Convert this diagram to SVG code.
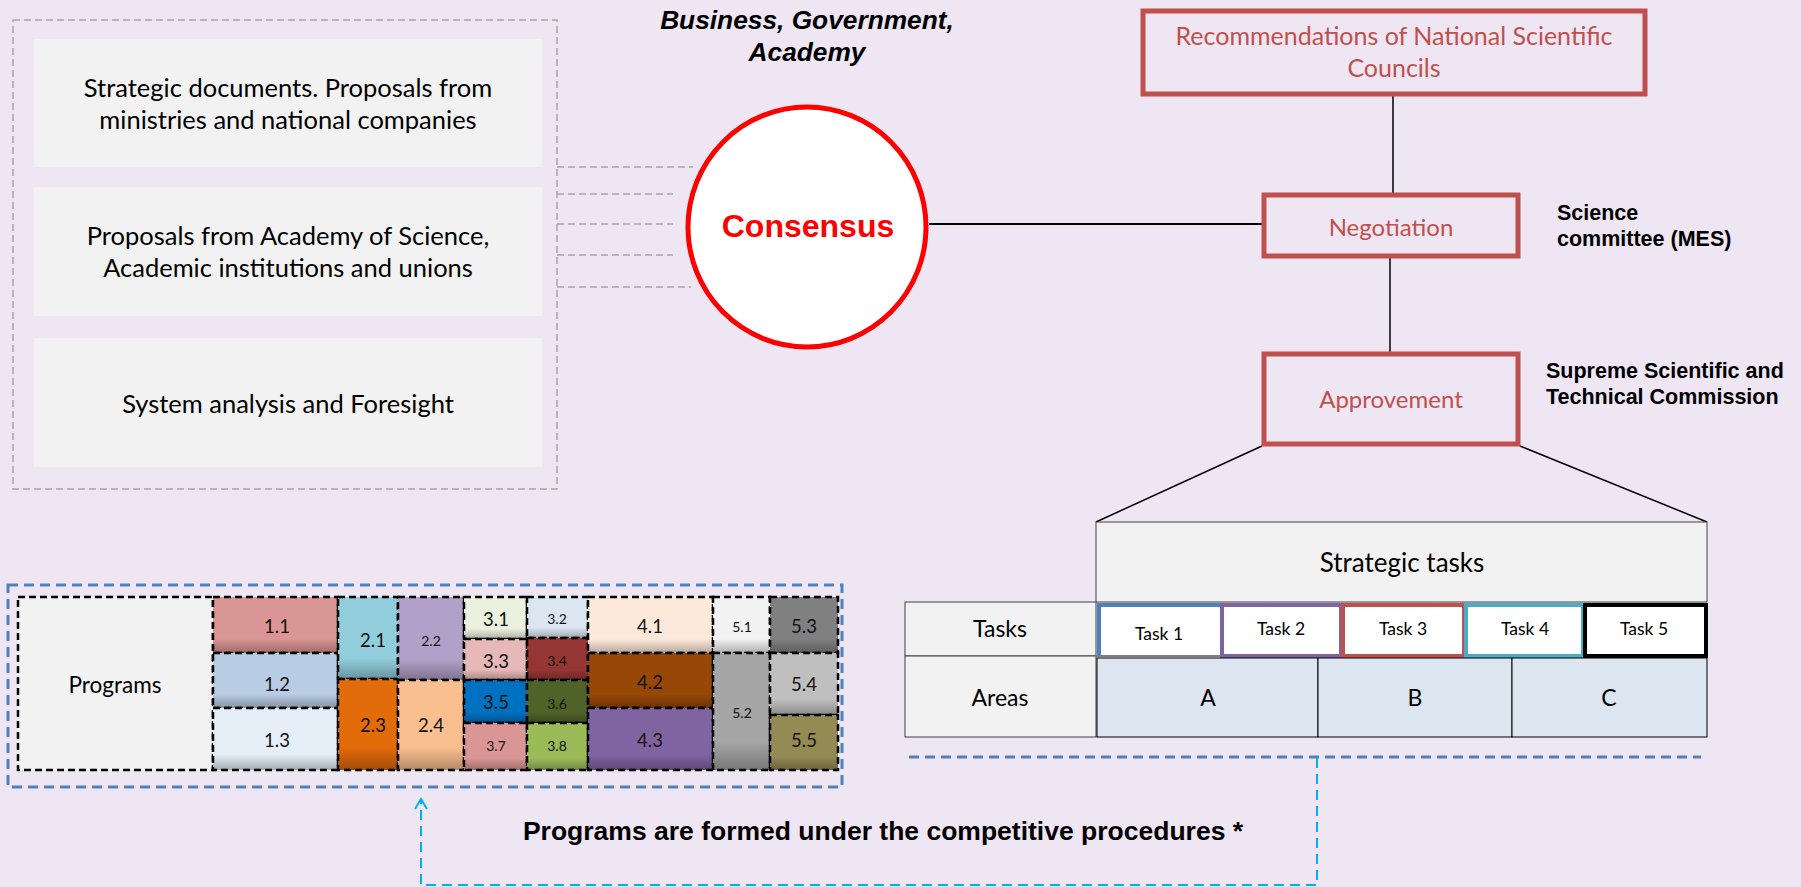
<svg xmlns="http://www.w3.org/2000/svg" width="1801" height="887" viewBox="0 0 1801 887">
<style>
.cal{font-family:Lato,"Open Sans","Noto Sans",sans-serif;fill:#000}
.ari{font-family:"Liberation Sans",Arial,sans-serif;font-weight:bold;fill:#000}
.src{fill:#F2F2F2}
.red{fill:none;stroke:#C0504D;stroke-width:5}
.ln{stroke:#000;stroke-width:1.5;fill:none}
.cell{stroke:#000;stroke-width:2.5;stroke-dasharray:7 4}
.shade{fill:url(#sh);stroke:none}
.lbl{font-family:Lato,"Open Sans",sans-serif;font-size:18.5px;text-anchor:middle;fill:#111}
.sm{font-size:14px}
.tc{fill:#F2F2F2;stroke:#404040;stroke-width:1}
.task{fill:#fff;stroke-width:4}
.area{fill:#DCE6F1;stroke:#000;stroke-width:1}
</style>
<defs>
<linearGradient id="sh" x1="0" y1="0" x2="0" y2="1">
<stop offset="0" stop-color="#000" stop-opacity="0"/>
<stop offset="0.75" stop-color="#000" stop-opacity="0"/>
<stop offset="1" stop-color="#000" stop-opacity="0.28"/>
</linearGradient>
<marker id="arr" markerWidth="14" markerHeight="14" refX="12" refY="7" orient="auto" markerUnits="userSpaceOnUse" viewBox="0 0 14 14">
<path d="M2,1 L12,7 L2,13" fill="none" stroke="#00B0F0" stroke-width="2"/>
</marker>
</defs>
<rect width="1801" height="887" fill="#EEE6F2"/>

<g id="connectors">
<rect x="13" y="20" width="544" height="469" fill="none" stroke="#A6A6A6" stroke-width="1.5" stroke-dasharray="7 4"/>
<g stroke="#A6A6A6" stroke-width="1.5" stroke-dasharray="7 4">
<line x1="557" y1="167" x2="693" y2="167"/>
<line x1="557" y1="194" x2="673" y2="194"/>
<line x1="557" y1="224" x2="673" y2="224"/>
<line x1="557" y1="255" x2="673" y2="255"/>
<line x1="557" y1="287" x2="691" y2="287"/>
</g>
<line x1="929" y1="224" x2="1262" y2="224" stroke="#000" stroke-width="2"/>
<line class="ln" x1="1393" y1="96" x2="1393" y2="193"/>
<line class="ln" x1="1390" y1="258" x2="1390" y2="352"/>
<line class="ln" x1="1262" y1="446" x2="1096" y2="522"/>
<line class="ln" x1="1520" y1="446" x2="1707" y2="522"/>
<line x1="909" y1="757" x2="1701" y2="757" stroke="#4F81BD" stroke-width="3" stroke-dasharray="10 6"/>
<path d="M1317,758 V885 H421 V799" fill="none" stroke="#00B0F0" stroke-width="2" stroke-dasharray="10 6" marker-end="url(#arr)"/>
</g>

<g id="src1">
<rect class="src" x="34" y="39" width="508" height="128"/>
<text class="cal" font-size="25.5" text-anchor="middle" x="288" y="97">Strategic documents. Proposals from</text>
<text class="cal" font-size="25.5" text-anchor="middle" x="288" y="129">ministries and national companies</text>
</g>
<g id="src2">
<rect class="src" x="34" y="187" width="508" height="129"/>
<text class="cal" font-size="25.5" text-anchor="middle" x="288" y="245">Proposals from Academy of Science,</text>
<text class="cal" font-size="25.5" text-anchor="middle" x="288" y="277">Academic institutions and unions</text>
</g>
<g id="src3">
<rect class="src" x="34" y="338" width="508" height="129"/>
<text class="cal" font-size="25.5" text-anchor="middle" x="288" y="413">System analysis and Foresight</text>
</g>

<g id="title">
<text class="ari" font-size="26.3" font-style="italic" text-anchor="middle" x="807" y="29">Business, Government,</text>
<text class="ari" font-size="26.3" font-style="italic" text-anchor="middle" x="807" y="61">Academy</text>
</g>

<g id="consensus">
<ellipse cx="807" cy="227" rx="119" ry="120" fill="#fff" stroke="#FF0000" stroke-width="5"/>
<text class="ari" font-size="32" text-anchor="middle" x="808" y="237" style="fill:#FF0000">Consensus</text>
</g>

<g id="recommendations">
<rect class="red" x="1143" y="11" width="502" height="83"/>
<text class="cal" font-size="25" text-anchor="middle" x="1394" y="45" style="fill:#C0504D">Recommendations of National Scientific</text>
<text class="cal" font-size="25" text-anchor="middle" x="1394" y="77" style="fill:#C0504D">Councils</text>
</g>

<g id="negotiation">
<rect class="red" x="1264" y="195" width="254" height="61"/>
<text class="cal" font-size="24" text-anchor="middle" x="1391" y="236" style="fill:#C0504D">Negotiation</text>
</g>
<g id="science-committee">
<text class="ari" font-size="21.5" x="1557" y="220">Science</text>
<text class="ari" font-size="21.5" x="1557" y="246">committee (MES)</text>
</g>

<g id="approvement">
<rect class="red" x="1264" y="354" width="254" height="90"/>
<text class="cal" font-size="24" text-anchor="middle" x="1391" y="408" style="fill:#C0504D">Approvement</text>
</g>
<g id="supreme-commission">
<text class="ari" font-size="21.5" x="1546" y="378">Supreme Scientific and</text>
<text class="ari" font-size="21.5" x="1546" y="404">Technical Commission</text>
</g>

<g id="strategic-tasks">
<rect class="tc" x="1096" y="522" width="611" height="80"/>
<text class="cal" font-size="26" text-anchor="middle" x="1402" y="572">Strategic tasks</text>
<rect class="tc" x="905" y="602" width="191" height="54"/>
<text class="cal" font-size="23" text-anchor="middle" x="1000" y="637">Tasks</text>
<rect class="tc" x="905" y="656" width="191" height="81"/>
<text class="cal" font-size="23" text-anchor="middle" x="1000" y="706">Areas</text>
</g>

<g id="tasks">
<rect x="1097" y="603" width="123" height="53" fill="#fff"/>
<path d="M1099,656 V605 H1220" fill="none" stroke="#4F81BD" stroke-width="4"/>
<line x1="1097" y1="656" x2="1220" y2="656" stroke="#7F7F7F" stroke-width="2"/>
<text class="cal" font-size="17.5" text-anchor="middle" x="1159" y="640">Task 1</text>
<rect class="task" x="1222" y="605" width="119" height="51" stroke="#8064A2"/>
<text class="cal" font-size="17.5" text-anchor="middle" x="1281" y="635">Task 2</text>
<rect class="task" x="1343" y="605" width="121" height="51" stroke="#C0504D"/>
<text class="cal" font-size="17.5" text-anchor="middle" x="1403" y="635">Task 3</text>
<rect class="task" x="1466" y="605" width="117" height="51" stroke="#4BACC6"/>
<text class="cal" font-size="17.5" text-anchor="middle" x="1525" y="635">Task 4</text>
<rect class="task" x="1585" y="605" width="121" height="51" stroke="#000"/>
<text class="cal" font-size="17.5" text-anchor="middle" x="1644" y="635">Task 5</text>
</g>

<g id="areas">
<rect class="area" x="1097" y="658" width="221" height="79"/>
<text class="cal" font-size="23" text-anchor="middle" x="1208" y="706">A</text>
<rect class="area" x="1318" y="658" width="194" height="79"/>
<text class="cal" font-size="23" text-anchor="middle" x="1415" y="706">B</text>
<rect class="area" x="1512" y="658" width="195" height="79"/>
<text class="cal" font-size="23" text-anchor="middle" x="1609" y="706">C</text>
</g>

<g id="programs">
<rect x="8" y="585" width="834" height="202" fill="none" stroke="#4F81BD" stroke-width="3" stroke-dasharray="10 6"/>
<rect class="cell" x="18" y="597" width="195" height="173" fill="#F2F2F2"/>
<text class="cal" font-size="22.5" text-anchor="middle" x="115" y="693">Programs</text>
</g>

<g id="program-cells">
<rect class="cell" x="213" y="597" width="125" height="56" fill="#DA9694"/><rect class="shade" x="213" y="597" width="125" height="56"/>
<rect class="cell" x="213" y="653" width="125" height="55" fill="#B8CCE4"/><rect class="shade" x="213" y="653" width="125" height="55"/>
<rect class="cell" x="213" y="708" width="125" height="62" fill="#E6EEF8"/><rect class="shade" x="213" y="708" width="125" height="62"/>
<rect class="cell" x="338" y="597" width="60" height="82" fill="#92CDDC"/><rect class="shade" x="338" y="597" width="60" height="82"/>
<rect class="cell" x="338" y="679" width="60" height="91" fill="#E26B0A"/><rect class="shade" x="338" y="679" width="60" height="91"/>
<rect class="cell" x="398" y="597" width="66" height="83" fill="#B1A0C7"/><rect class="shade" x="398" y="597" width="66" height="83"/>
<rect class="cell" x="398" y="680" width="66" height="90" fill="#FABF8F"/><rect class="shade" x="398" y="680" width="66" height="90"/>
<rect class="cell" x="464" y="597" width="63" height="42" fill="#EBF1DE"/><rect class="shade" x="464" y="597" width="63" height="42"/>
<rect class="cell" x="464" y="639" width="63" height="41" fill="#E6B8B7"/><rect class="shade" x="464" y="639" width="63" height="41"/>
<rect class="cell" x="464" y="680" width="63" height="43" fill="#0070C0"/><rect class="shade" x="464" y="680" width="63" height="43"/>
<rect class="cell" x="464" y="723" width="63" height="47" fill="#DA9694"/><rect class="shade" x="464" y="723" width="63" height="47"/>
<rect class="cell" x="527" y="597" width="61" height="41" fill="#DCE6F1"/><rect class="shade" x="527" y="597" width="61" height="41"/>
<rect class="cell" x="527" y="638" width="61" height="42" fill="#963634"/><rect class="shade" x="527" y="638" width="61" height="42"/>
<rect class="cell" x="527" y="680" width="61" height="43" fill="#4F6228"/><rect class="shade" x="527" y="680" width="61" height="43"/>
<rect class="cell" x="527" y="723" width="61" height="47" fill="#9BBB59"/><rect class="shade" x="527" y="723" width="61" height="47"/>
<rect class="cell" x="588" y="597" width="125" height="56" fill="#FDE9D9"/><rect class="shade" x="588" y="597" width="125" height="56"/>
<rect class="cell" x="588" y="653" width="125" height="55" fill="#974706"/><rect class="shade" x="588" y="653" width="125" height="55"/>
<rect class="cell" x="588" y="708" width="125" height="62" fill="#8064A2"/><rect class="shade" x="588" y="708" width="125" height="62"/>
<rect class="cell" x="713" y="597" width="57" height="56" fill="#F2F2F2"/><rect class="shade" x="713" y="597" width="57" height="56"/>
<rect class="cell" x="713" y="653" width="57" height="117" fill="#A6A6A6"/><rect class="shade" x="713" y="653" width="57" height="117"/>
<rect class="cell" x="770" y="597" width="68" height="56" fill="#808080"/><rect class="shade" x="770" y="597" width="68" height="56"/>
<rect class="cell" x="770" y="653" width="68" height="62" fill="#BFBFBF"/><rect class="shade" x="770" y="653" width="68" height="62"/>
<rect class="cell" x="770" y="715" width="68" height="55" fill="#948A54"/><rect class="shade" x="770" y="715" width="68" height="55"/>
<text class="lbl" x="277" y="633">1.1</text>
<text class="lbl" x="277" y="691">1.2</text>
<text class="lbl" x="277" y="747">1.3</text>
<text class="lbl" x="373" y="647">2.1</text>
<text class="lbl" x="373" y="732">2.3</text>
<text class="lbl sm" x="431" y="646">2.2</text>
<text class="lbl" x="431" y="732">2.4</text>
<text class="lbl" x="496" y="626">3.1</text>
<text class="lbl" x="496" y="668">3.3</text>
<text class="lbl" x="496" y="709">3.5</text>
<text class="lbl sm" x="496" y="751">3.7</text>
<text class="lbl sm" x="557" y="624">3.2</text>
<text class="lbl sm" x="557" y="666">3.4</text>
<text class="lbl sm" x="557" y="709">3.6</text>
<text class="lbl sm" x="557" y="751">3.8</text>
<text class="lbl" x="650" y="633">4.1</text>
<text class="lbl" x="650" y="689">4.2</text>
<text class="lbl" x="650" y="747">4.3</text>
<text class="lbl sm" x="742" y="632">5.1</text>
<text class="lbl sm" x="742" y="718">5.2</text>
<text class="lbl" x="804" y="633">5.3</text>
<text class="lbl" x="804" y="691">5.4</text>
<text class="lbl" x="804" y="747">5.5</text>
</g>

<g id="footer">
<text class="ari" font-size="26.5" text-anchor="middle" x="883" y="840">Programs are formed under the competitive procedures *</text>
</g>
</svg>
